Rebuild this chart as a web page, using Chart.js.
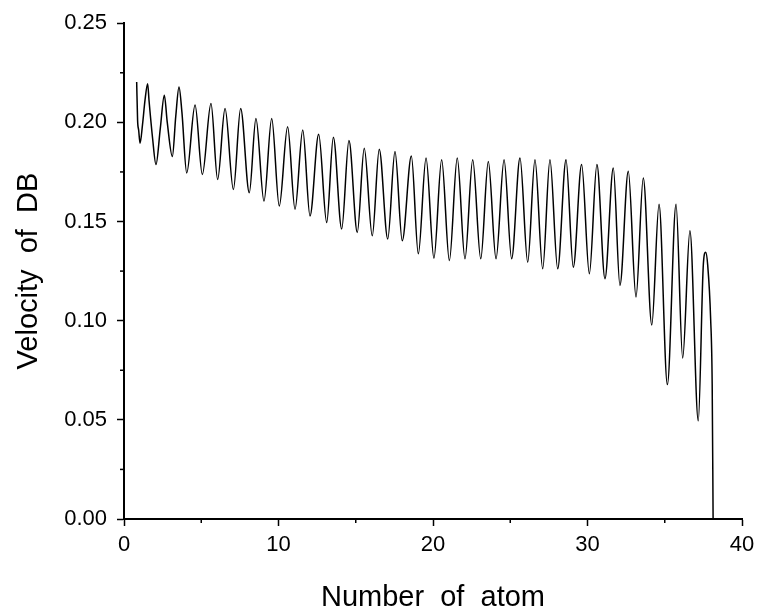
<!DOCTYPE html>
<html>
<head>
<meta charset="utf-8">
<script src="https://cdn.jsdelivr.net/npm/chart.js@4.4.1/dist/chart.umd.min.js"></script>
<style>
    html, body { margin: 0; padding: 0; background: #ffffff; }
    #wrap { width: 762px; height: 614px; }
</style>
</head>
<body>
<div id="wrap"><canvas id="velocityChart" width="762" height="614"></canvas></div>
<script>
// ======================
// DONNEES
// ======================
const atomNumber = [
    0.82, 0.88, 0.95, 1.04, 1.2, 1.36, 1.53, 1.62, 1.85, 2.07,
    2.35, 2.61, 2.8, 3.13, 3.35, 3.56, 3.75, 4.06, 4.6, 5.07,
    5.63, 6.06, 6.54, 7.08, 7.55, 8.11, 8.54, 9.06, 9.56, 10.05,
    10.59, 11.07, 11.57, 12.04, 12.6, 13.12, 13.55, 14.09, 14.56, 15.1,
    15.55, 16.07, 16.52, 17.07, 17.54, 18.01, 18.6, 19.05, 19.55, 20.06,
    20.56, 21.06, 21.57, 22.07, 22.57, 23.09, 23.58, 24.08, 24.6, 25.09,
    25.63, 26.13, 26.6, 27.1, 27.57, 28.07, 28.61, 29.08, 29.62, 30.12,
    30.61, 31.13, 31.67, 32.1, 32.64, 33.14, 33.61, 34.16, 34.63, 35.17,
    35.73, 36.16, 36.63, 37.17, 37.5, 37.65, 37.78, 37.97, 38.07, 38.13
];

const velocityDB = [
    0.2204, 0.201, 0.196, 0.1895, 0.199, 0.2112, 0.2195, 0.211, 0.192, 0.1787,
    0.197, 0.2137, 0.200, 0.1828, 0.203, 0.2178, 0.205, 0.1745, 0.2087, 0.1737,
    0.2095, 0.1712, 0.207, 0.1662, 0.207, 0.1645, 0.202, 0.1603, 0.202, 0.1578,
    0.1978, 0.1562, 0.1962, 0.1528, 0.194, 0.1495, 0.1925, 0.1462, 0.1908, 0.1445,
    0.187, 0.1428, 0.1865, 0.1412, 0.1853, 0.1403, 0.183, 0.1337, 0.182, 0.1315,
    0.1812, 0.1303, 0.182, 0.1312, 0.1812, 0.1312, 0.1803, 0.1312, 0.1812, 0.1312,
    0.182, 0.1295, 0.1812, 0.1262, 0.1812, 0.1262, 0.1812, 0.127, 0.1787, 0.1237,
    0.1787, 0.1212, 0.177, 0.1178, 0.1753, 0.112, 0.172, 0.0978, 0.1587, 0.0678,
    0.1587, 0.0812, 0.1453, 0.0495, 0.1287, 0.1345, 0.128, 0.101, 0.068, 0.0
];

const xTicks = [0, 10, 20, 30, 40];
const yTicks = [0.00, 0.05, 0.10, 0.15, 0.20, 0.25];
const xMinorTicks = [5, 15, 25, 35];
const yMinorTicks = [0.025, 0.075, 0.125, 0.175, 0.225];

const points = atomNumber.map((x, i) => ({ x: x, y: velocityDB[i] }));

// petits traits intermédiaires (comme Origin)
const minorTicksPlugin = {
    id: 'minorTicks',
    afterDraw(chart) {
        const ctx = chart.ctx;
        const xs = chart.scales.x;
        const ys = chart.scales.y;
        ctx.save();
        ctx.strokeStyle = '#000000';
        ctx.lineWidth = 1.5;
        xMinorTicks.forEach(v => {
            const px = xs.getPixelForValue(v);
            ctx.beginPath();
            ctx.moveTo(px, xs.top);
            ctx.lineTo(px, xs.top + 4);
            ctx.stroke();
        });
        yMinorTicks.forEach(v => {
            const py = ys.getPixelForValue(v);
            ctx.beginPath();
            ctx.moveTo(ys.right, py);
            ctx.lineTo(ys.right - 4, py);
            ctx.stroke();
        });
        ctx.restore();
    }
};

const tickFont = { family: "'Liberation Sans', Arial, sans-serif", size: 22 };
const titleFont = { family: "'Liberation Sans', Arial, sans-serif", size: 29, lineHeight: 1.1 };

new Chart(document.getElementById('velocityChart').getContext('2d'), {
    type: 'line',
    data: {
        datasets: [{
            data: points,
            borderColor: '#000000',
            borderWidth: 1.5,
            pointRadius: 0,
            fill: false,
            cubicInterpolationMode: 'monotone'
        }]
    },
    options: {
        responsive: false,
        animation: false,
        layout: { padding: { top: 19, right: 20, left: 0, bottom: 0 } },
        plugins: {
            legend: { display: false },
            tooltip: { enabled: false }
        },
        scales: {
            x: {
                type: 'linear',
                min: 0,
                max: 40,
                afterFit: s => { s.height = 95; },
                afterBuildTicks: s => { s.ticks = xTicks.map(v => ({ value: v })); },
                ticks: {
                    font: tickFont,
                    color: '#000000',
                    padding: 6,
                    maxRotation: 0,
                    callback: v => String(v)
                },
                grid: {
                    drawOnChartArea: false,
                    tickLength: 7,
                    tickWidth: 1.5,
                    tickColor: '#000000'
                },
                border: { color: '#000000', width: 2 },
                title: {
                    display: true,
                    text: 'Number  of  atom',
                    font: titleFont,
                    color: '#000000',
                    padding: { top: 0, bottom: 0 }
                }
            },
            y: {
                type: 'linear',
                min: 0,
                max: 0.25,
                afterFit: s => { s.width = 124; },
                afterBuildTicks: s => { s.ticks = yTicks.map(v => ({ value: v })); },
                ticks: {
                    font: tickFont,
                    color: '#000000',
                    padding: 10,
                    callback: v => v.toFixed(2)
                },
                grid: {
                    drawOnChartArea: false,
                    tickLength: 7,
                    tickWidth: 1.5,
                    tickColor: '#000000'
                },
                border: { color: '#000000', width: 2 },
                title: {
                    display: true,
                    text: 'Velocity  of  DB',
                    font: titleFont,
                    color: '#000000',
                    padding: { top: 13, bottom: 0 }
                }
            }
        }
    },
    plugins: [minorTicksPlugin]
});
</script>
</body>
</html>
